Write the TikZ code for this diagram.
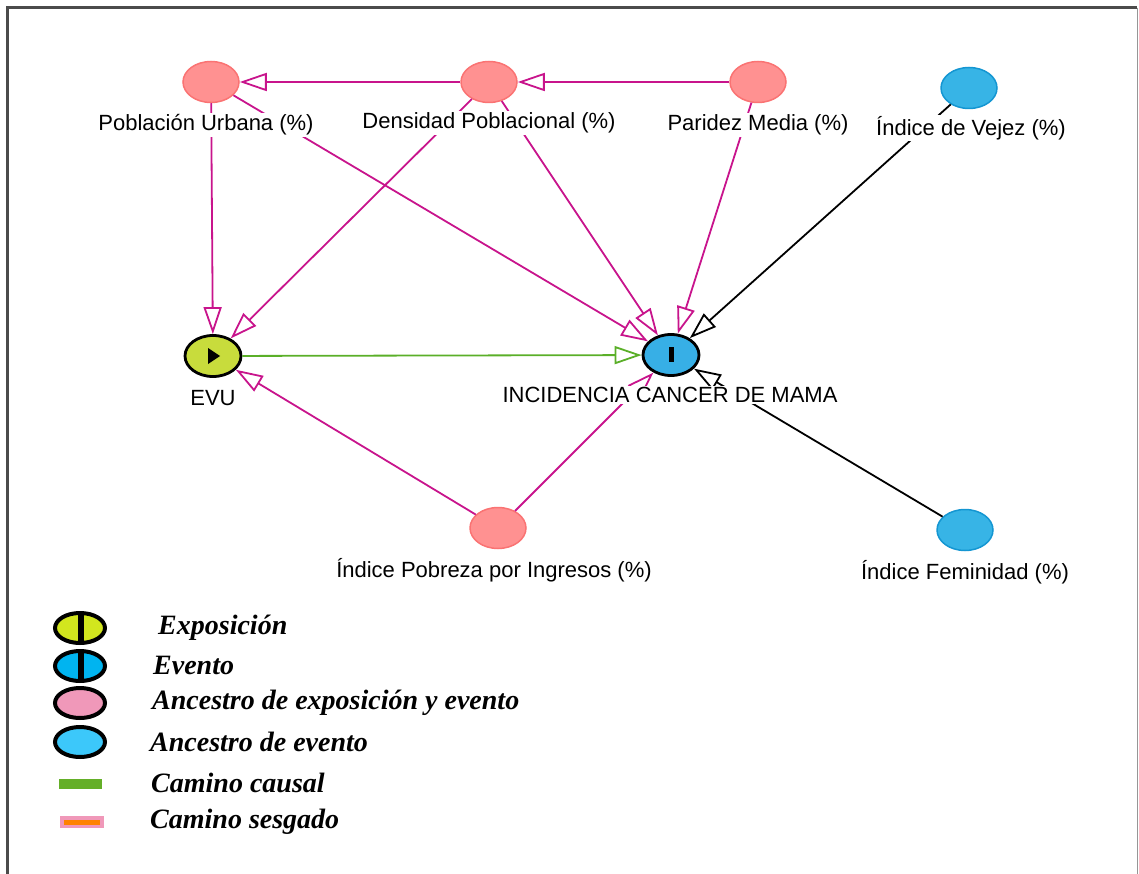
\documentclass[tikz,border=0pt]{standalone}
\usepackage{fontspec}
\setmainfont{Liberation Sans}
\newfontfamily\legfont{Liberation Serif}
\usetikzlibrary{shapes.geometric,arrows.meta}
\definecolor{ancfill}{RGB}{255,145,145}
\definecolor{ancdraw}{RGB}{250,115,115}
\definecolor{bluefill}{RGB}{55,180,230}
\definecolor{bluedraw}{RGB}{20,150,210}
\definecolor{expfill}{RGB}{200,220,60}
\definecolor{evfill}{RGB}{55,175,230}
\definecolor{biasc}{RGB}{200,20,140}
\definecolor{causc}{RGB}{90,175,40}
\definecolor{legexp}{RGB}{210,230,30}
\definecolor{legev}{RGB}{0,180,240}
\definecolor{legpink}{RGB}{240,152,185}
\definecolor{legcyan}{RGB}{60,200,250}
\definecolor{leggreen}{RGB}{100,175,40}
\definecolor{legorange}{RGB}{255,130,0}
\definecolor{framedark}{RGB}{75,75,75}
\definecolor{framelight}{RGB}{150,150,150}
\tikzset{
  anc/.style={ellipse, minimum width=56, minimum height=41, inner sep=0, fill=ancfill, draw=ancdraw, line width=1.5},
  evanc/.style={ellipse, minimum width=56, minimum height=41, inner sep=0, fill=bluefill, draw=bluedraw, line width=1.5},
  mainnode/.style={ellipse, minimum width=56, minimum height=41, inner sep=0, draw=black, line width=2.8},
  lab/.style={font=\fontsize{22}{26}\selectfont, fill=white, inner sep=1.5},
  pedge/.style={draw=biasc, line width=1.8, -{Triangle[open, length=27pt, width=18pt, fill=white]}},
  bedge/.style={draw=black, line width=1.8, -{Triangle[open, length=27pt, width=18pt, fill=white]}},
  cedge/.style={draw=causc, line width=1.8, -{Triangle[open, length=27pt, width=18pt, fill=white]}},
  legell/.style={ellipse, minimum width=50, minimum height=30, inner sep=0, draw=black, line width=4},
  legtxt/.style={anchor=west, font=\legfont\bfseries\itshape\fontsize{28}{32}\selectfont, inner sep=0},
}
\begin{document}
\begin{tikzpicture}[x=1pt,y=-1pt]
\useasboundingbox (0,0) rectangle (1139,874);
% frame
\draw[framedark, line width=3] (7,874) -- (7,8) -- (1137,8);
\draw[framelight, line width=1.5] (1137.5,8) -- (1137.5,874);

% nodes
\node[anc] (pu) at (211,82) {};
\node[anc] (dp) at (489,82) {};
\node[anc] (pm) at (758,82) {};
\node[evanc] (iv) at (969,88) {};
\node[mainnode, fill=expfill] (evu) at (213,356) {};
\node[mainnode, fill=evfill] (inc) at (671,355) {};
\node[anc] (ip) at (498,528) {};
\node[evanc] (if) at (965,530) {};
\fill[black] (208,348) -- (220,356) -- (208,364) -- cycle;
\fill[black] (669,347) rectangle (673.5,362);

% edges
\draw[pedge] (dp) -- (pu);
\draw[pedge] (pm) -- (dp);
\draw[pedge] (pu) -- (evu);
\draw[pedge] (pu) -- (inc);
\draw[pedge] (dp) -- (evu);
\draw[pedge] (dp) -- (inc);
\draw[pedge] (pm) -- (inc);
\draw[bedge] (iv) -- (inc);
\draw[cedge] (evu) -- (inc);
\draw[pedge] (ip) -- (evu);
\draw[pedge] (ip) -- (inc);
\draw[bedge] (if) -- (inc);

% labels
\node[lab] (lpu) at (206,125) {Población Urbana (\%)};
\node[lab] (ldp) at (489,123) {Densidad Poblacional (\%)};
\node[lab] (lpm) at (758,125) {Paridez Media (\%)};
\node[lab] (liv) at (971,128) {Índice de Vejez (\%)};
\node[lab] (levu) at (213,398) {EVU};
\node[lab] (linc) at (670,395) {INCIDENCIA CANCER DE MAMA};
\node[lab] (lip) at (494,570) {Índice Pobreza por Ingresos (\%)};
\node[lab] (lif) at (965,572) {Índice Feminidad (\%)};

% legend
\node[legell, fill=legexp] (k1) at (80,628) {};
\fill[black] (77.5,614) rectangle (84,642);
\node[legtxt] (t1) at (158,628) {Exposición};
\node[legell, fill=legev] (k2) at (80,666) {};
\fill[black] (77.5,652) rectangle (84,680);
\node[legtxt] (t2) at (153,665) {Evento};
\node[legell, fill=legpink] (k3) at (80,703) {};
\node[legtxt] (t3) at (152,703) {Ancestro de exposición y evento};
\node[legell, fill=legcyan] (k4) at (80,742) {};
\node[legtxt] (t4) at (150,742) {Ancestro de evento};
\fill[leggreen] (59,779) rectangle (102,789);
\node[legtxt] (t5) at (151,783) {Camino causal};
\fill[legpink] (60,816) rectangle (104,828);
\fill[legorange] (64,819.5) rectangle (100,824.5);
\node[legtxt] (t6) at (150,822) {Camino sesgado};
\end{tikzpicture}
\end{document}
